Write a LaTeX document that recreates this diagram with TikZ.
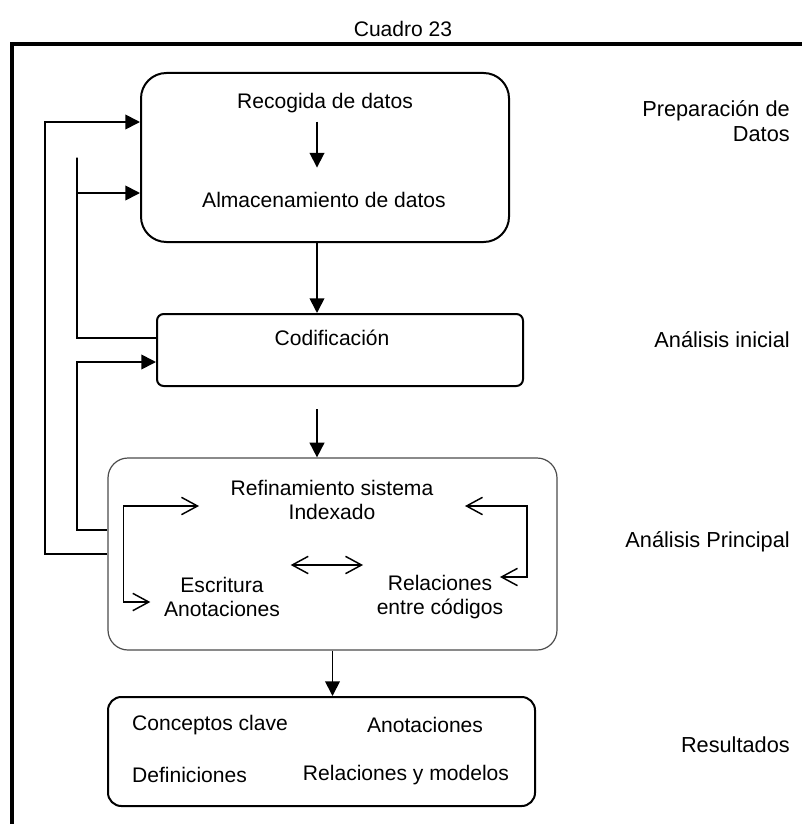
\documentclass[tikz,border=0pt]{standalone}
\usepackage{fontspec}
\setmainfont{Liberation Sans}
\usepackage{tikz}
\usetikzlibrary{shapes,positioning,calc}
\usetikzlibrary{arrows.meta}
\tikzstyle{caja} = [rectangle, draw=black, line width=1.5pt]
\tikzstyle{texto} = [align=center, font=\fontsize{15.8}{18}\selectfont]
\tikzstyle{etiqueta} = [anchor=east, align=right, inner sep=0pt, font=\fontsize{16.3}{19}\selectfont]
\tikzstyle{flecha} = [line width=1.3pt, -{Triangle[length=11pt,width=11pt]}]
\tikzstyle{abierta} = [line width=1.1pt, {Straight Barb[length=12pt,width=13pt]}-{Straight Barb[length=12pt,width=13pt]}]

\begin{document}
\begin{tikzpicture}[x=0.75pt,y=-0.75pt]
\useasboundingbox (0,0) rectangle (802,824);
\node (titulo) at (403,29) [texto] {Cuadro 23};
\draw[line width=3pt] (830,44) -- (12,44) -- (12,850);
\coordinate (eje) at (317,0);
\coordinate (riel1) at (45,0);
\coordinate (riel2) at (77,0);

% cajas
\node (caja1) at (325,157.5) [caja, rounded corners=19pt, minimum width=276pt, minimum height=126.75pt] {};
\node (caja2) at (340,350) [caja, rounded corners=5pt, minimum width=274.5pt, minimum height=54pt] {};
\node (caja3) at (332.5,554) [caja, draw=black!70, line width=0.9pt, rounded corners=15pt, minimum width=336.75pt, minimum height=144pt] {};
\node (caja4) at (321.5,751.5) [caja, rounded corners=10pt, minimum width=320.25pt, minimum height=81.75pt] {};

% textos
\node (recogida) at (325,103) [texto] {Recogida de datos};
\node (almacen) at (324,200) [texto] {Almacenamiento de datos};
\node (cod) at (332,338) [texto] {Codificación};
\node (refina) at (332,500) [texto] {Refinamiento sistema\\Indexado};
\node (escritura) at (222,597) [texto] {Escritura\\Anotaciones};
\node (relacion) at (440,597) [texto] {Relaciones\\entre códigos};
\node (conceptos) at (210,725) [texto] {Conceptos clave};
\node (anot) at (425,725) [texto] {Anotaciones};
\node (defin) at (189.5,775) [texto] {Definiciones};
\node (relmod) at (406,775) [texto] {Relaciones y modelos};

\node (prep) at (790,121) [etiqueta] {Preparación de\\Datos};
\node (inicial) at (790,340) [etiqueta] {Análisis inicial};
\node (principal) at (790,542) [etiqueta] {Análisis Principal};
\node (resultados) at (790,745) [etiqueta] {Resultados};

% flechas
\draw[flecha, shorten >=15pt, shorten <=3pt] (recogida.south -| eje) -- (almacen.north -| eje);
\draw[flecha] (caja1.south -| eje) -- (caja2.north -| eje);
\draw[flecha] ($(caja2.south -| eje)+(0,22)$) -- (caja3.north -| eje);
\draw[flecha] (caja3.south) -- (caja4.north -| caja3.south);

% retornos
\draw[flecha] (caja3.west) -- (caja3.west -| riel1) |- ($(caja1.west)+(0,-35.5)$);
\draw[flecha] ($(caja2.west)+(0,-12)$) -| (riel2 |- caja1.west) |- ($(caja1.west)+(0,35.5)$);
\draw[flecha] ($(caja3.west)+(0,-24)$) -| (riel2 |- caja3.north) |- ($(caja2.west)+(0,12)$);

% dentro del analisis principal
\draw[abierta] ($(refina.west)+(-27,6)$) -| ($(escritura.west)+(-36,5)$) -- ($(escritura.west)+(-9,5)$);
\draw[abierta] ($(refina.east)+(27,6)$) -| ($(relacion.east)+(19,-20)$) -- ($(relacion.east)+(-8,-20)$);
\draw[abierta] ($(escritura.east)+(6,-32)$) -- ($(relacion.west)+(-9,-32)$);
\end{tikzpicture}
\end{document}
